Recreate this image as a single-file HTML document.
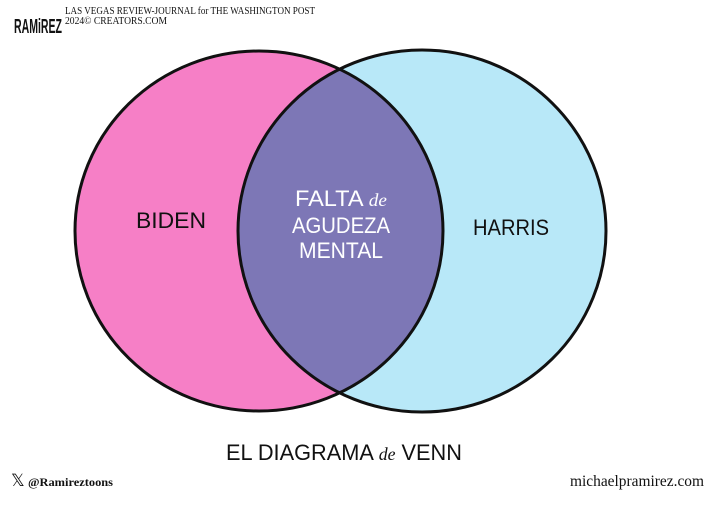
<!DOCTYPE html>
<html><head><meta charset="utf-8"><style>
html,body{margin:0;padding:0;background:#fff;}
body{width:720px;height:523px;overflow:hidden;position:relative;}
</style></head><body>
<svg width="720" height="523" viewBox="0 0 720 523" xmlns="http://www.w3.org/2000/svg" style="position:absolute;left:0;top:0">
<defs>
<clipPath id="cl"><ellipse cx="259" cy="231" rx="184" ry="180"/></clipPath>
</defs>
<ellipse cx="259" cy="231" rx="184" ry="180" fill="#f67fc6"/>
<ellipse cx="422" cy="231" rx="184" ry="181" fill="#b8e8f8"/>
<ellipse cx="422" cy="231" rx="184" ry="181" fill="#7d77b6" clip-path="url(#cl)"/>
<ellipse cx="259" cy="231" rx="184" ry="180" fill="none" stroke="#111" stroke-width="3"/>
<ellipse cx="422" cy="231" rx="184" ry="181" fill="none" stroke="#111" stroke-width="3"/>
<g font-family="Liberation Sans, sans-serif" text-anchor="middle">
<text x="171" y="228" font-size="22" fill="#111" textLength="70" lengthAdjust="spacingAndGlyphs">BIDEN</text>
<text x="511" y="235" font-size="22" fill="#111" textLength="76" lengthAdjust="spacingAndGlyphs">HARRIS</text>
<text x="341" y="206" font-size="22" fill="#fff" textLength="92" lengthAdjust="spacingAndGlyphs">FALTA <tspan font-family="Liberation Serif, serif" font-style="italic" font-size="18">de</tspan></text>
<text x="341" y="233" font-size="22" fill="#fff" textLength="98" lengthAdjust="spacingAndGlyphs">AGUDEZA</text>
<text x="341" y="258" font-size="22" fill="#fff" textLength="84" lengthAdjust="spacingAndGlyphs">MENTAL</text>
<text x="344" y="460" font-size="22" fill="#111" textLength="236" lengthAdjust="spacingAndGlyphs">EL DIAGRAMA <tspan font-family="Liberation Serif, serif" font-style="italic" font-size="18">de</tspan> VENN</text>
</g>
<text x="14" y="33" font-family="Liberation Sans, sans-serif" font-size="20" font-weight="bold" fill="#111" textLength="48" lengthAdjust="spacingAndGlyphs">RAMiREZ</text>
<text x="65" y="14" font-family="Liberation Serif, serif" font-size="10" fill="#111" textLength="250" lengthAdjust="spacingAndGlyphs">LAS VEGAS REVIEW-JOURNAL for THE WASHINGTON POST</text>
<text x="65" y="24" font-family="Liberation Serif, serif" font-size="10" fill="#111" textLength="102" lengthAdjust="spacingAndGlyphs">2024© CREATORS.COM</text>
<text x="11" y="486" font-family="Liberation Serif, serif" font-size="17" fill="#111">𝕏</text>
<text x="28" y="486" font-family="Liberation Serif, serif" font-size="12" font-weight="bold" fill="#111" textLength="85" lengthAdjust="spacingAndGlyphs">@Ramireztoons</text>
<text x="704" y="486" text-anchor="end" font-family="Liberation Serif, serif" font-size="16" fill="#111" textLength="134" lengthAdjust="spacingAndGlyphs">michaelpramirez.com</text>
</svg>
</body></html>
